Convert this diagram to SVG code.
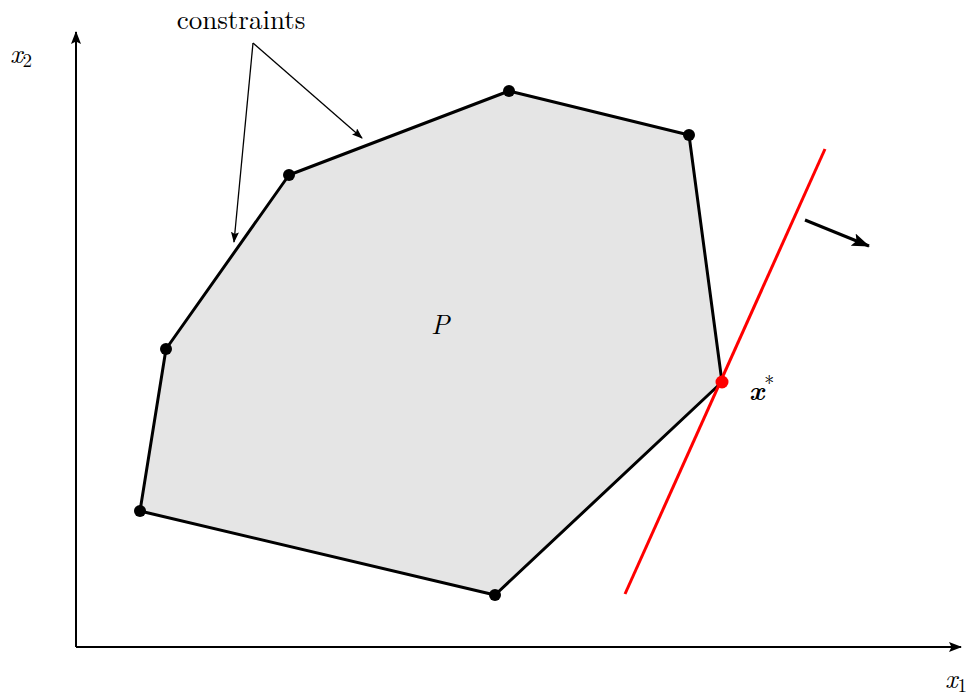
<svg xmlns="http://www.w3.org/2000/svg" width="977" height="697" viewBox="0 0 977 697">
<style>
.lbl{font-family:"Latin Modern Roman","Liberation Serif",serif;font-size:27px;fill:#000}
.it{font-style:italic}
.axis{stroke:#000;stroke-width:2;fill:none}
.thin{stroke:#000;stroke-width:1.3;fill:none}
.v{fill:#000}
</style>
<defs>
<marker id="ah" markerWidth="13" markerHeight="10" refX="12" refY="5" orient="auto" markerUnits="userSpaceOnUse" viewBox="0 0 13 10"><path d="M0,0 L13,5 L0,10 L2.5,5 Z" fill="#000"/></marker>
<marker id="ahs" markerWidth="11" markerHeight="8" refX="10" refY="4" orient="auto" markerUnits="userSpaceOnUse" viewBox="0 0 11 8"><path d="M0,0 L11,4 L0,8 L2,4 Z" fill="#000"/></marker>
<marker id="ahb" markerWidth="18" markerHeight="13" refX="17" refY="6.5" orient="auto" markerUnits="userSpaceOnUse" viewBox="0 0 18 13"><path d="M0,0 L18,6.5 L0,13 L3.5,6.5 Z" fill="#000"/></marker>
</defs>
<g id="polygon">
<polygon points="140,511 166,349 289,175 509,91 689,135 722,382 495,595" fill="#e5e5e5" stroke="#000" stroke-width="3" stroke-linejoin="round"/>
</g>
<g id="connectors">
<line class="axis" x1="76" y1="647" x2="76" y2="32" marker-end="url(#ah)"/>
<line class="axis" x1="76" y1="647" x2="961" y2="647" marker-end="url(#ah)"/>
<line class="thin" x1="253" y1="43" x2="234" y2="242" marker-end="url(#ahs)"/>
<line class="thin" x1="253" y1="43" x2="362" y2="138" marker-end="url(#ahs)"/>
<line x1="625" y1="594" x2="825" y2="149" stroke="#ff0000" stroke-width="3"/>
<line x1="805" y1="220" x2="869" y2="246" stroke="#000" stroke-width="3" marker-end="url(#ahb)"/>
</g>
<g id="vertices">
<circle class="v" cx="140" cy="511" r="6"/>
<circle class="v" cx="166" cy="349" r="6"/>
<circle class="v" cx="289" cy="175" r="6"/>
<circle class="v" cx="509" cy="91" r="6"/>
<circle class="v" cx="689" cy="135" r="6"/>
<circle class="v" cx="495" cy="595" r="6"/>
</g>
<g id="xstar">
<circle cx="722" cy="382" r="6.5" fill="#ff0000"/>
<text class="lbl" x="749" y="400" font-weight="bold" font-style="italic">x<tspan font-weight="normal" font-style="normal" font-size="20" dy="-10">*</tspan></text>
</g>
<g id="labels">
<text class="lbl" x="241" y="29" text-anchor="middle">constraints</text>
<text class="lbl it" x="10" y="63">x<tspan font-size="19" font-style="normal" dy="4">2</tspan></text>
<text class="lbl it" x="945" y="688">x<tspan font-size="19" font-style="normal" dy="4">1</tspan></text>
<text class="lbl it" x="431" y="334">P</text>
</g>
</svg>
